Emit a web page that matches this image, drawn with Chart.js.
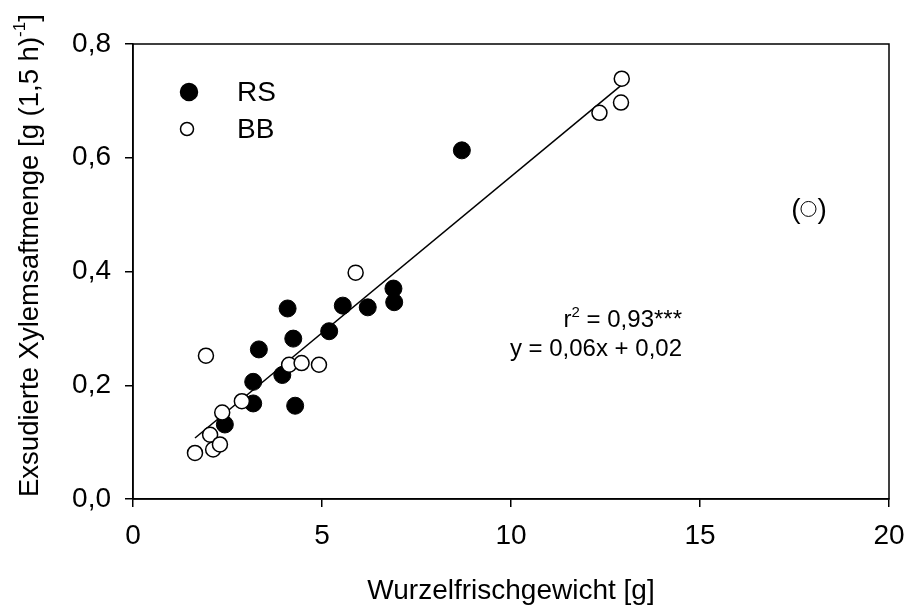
<!DOCTYPE html>
<html>
<head>
<meta charset="utf-8">
<script src="https://cdn.jsdelivr.net/npm/chart.js@4"></script>
<style>
  body { margin: 0; background: #fff; }
</style>
</head>
<body>
<canvas id="chart" width="908" height="611"></canvas>
<script>
// Wurzelfrischgewicht [g] vs. exsudierte Xylemsaftmenge
const rsX = [2.43, 3.18, 3.18, 3.33, 3.95, 4.09, 4.24, 4.29, 5.19, 5.55, 6.21, 6.89, 6.91, 8.70];
const rsY = [0.131, 0.206, 0.168, 0.263, 0.218, 0.335, 0.282, 0.164, 0.295, 0.340, 0.337, 0.370, 0.346, 0.613];

const bbX = [1.64, 1.93, 2.04, 2.12, 2.30, 2.36, 2.88, 4.13, 4.46, 4.92, 5.89, 12.34, 12.91, 12.93];
const bbY = [0.081, 0.252, 0.113, 0.087, 0.096, 0.152, 0.172, 0.236, 0.239, 0.236, 0.398, 0.679, 0.697, 0.739];

// excluded point, shown in brackets
const outlierX = [17.87];
const outlierY = [0.51];

// regression over RS + BB
const fitSlope = 0.055;
const fitIntercept = 0.017;
const fitLabel = ["0,93", "y = 0,06x + 0,02"];

const xTicks = [0, 5, 10, 15, 20];
const yTicks = [0, 0.2, 0.4, 0.6, 0.8];

const FONT = "'Liberation Sans', Arial, sans-serif";

function points(xs, ys) {
  return xs.map((x, i) => ({ x: x, y: ys[i] }));
}

const allX = rsX.concat(bbX);
const fitRange = [Math.min(...allX), Math.max(...allX)];
const fitPoints = fitRange.map(x => ({ x: x, y: fitSlope * x + fitIntercept }));

// box around the plot area
const frame = {
  id: "frame",
  afterDraw(chart) {
    const { ctx, chartArea: a } = chart;
    ctx.save();
    ctx.strokeStyle = "#000";
    ctx.lineWidth = 1.5;
    ctx.strokeRect(a.left, a.top, a.right - a.left, a.bottom - a.top);
    ctx.restore();
  }
};

// legend inside the plot, top left
const innerLegend = {
  id: "innerLegend",
  afterDraw(chart) {
    const ctx = chart.ctx;
    const rows = [
      { ds: chart.data.datasets[1], cx: 189, cy: 92, r: 8.5 },
      { ds: chart.data.datasets[2], cx: 187, cy: 129, r: 6.5 }
    ];
    ctx.save();
    ctx.font = "28px " + FONT;
    ctx.textBaseline = "middle";
    ctx.fillStyle = "#000";
    rows.forEach(row => {
      ctx.beginPath();
      ctx.arc(row.cx, row.cy, row.r, 0, Math.PI * 2);
      ctx.fillStyle = row.ds.backgroundColor;
      ctx.fill();
      ctx.lineWidth = 1.5;
      ctx.strokeStyle = "#000";
      ctx.stroke();
      ctx.fillStyle = "#000";
      ctx.fillText(row.ds.label, 237, row.cy + 1);
    });
    ctx.restore();
  }
};

// brackets around the excluded point, r² and equation
const notes = {
  id: "notes",
  afterDraw(chart) {
    const { ctx, scales: { x, y } } = chart;
    ctx.save();
    ctx.fillStyle = "#000";
    ctx.textBaseline = "middle";

    const px = x.getPixelForValue(outlierX[0]);
    const py = y.getPixelForValue(outlierY[0]);
    ctx.font = "28px " + FONT;
    ctx.textAlign = "right";
    ctx.fillText("(", px - 8, py + 1);
    ctx.textAlign = "left";
    ctx.fillText(")", px + 9, py + 1);

    // two lines, right aligned
    const right = 682;
    const big = "24px " + FONT;
    const small = "15px " + FONT;
    ctx.textBaseline = "alphabetic";
    ctx.textAlign = "left";
    const parts = [
      { t: "r", f: big, dy: 0 },
      { t: "2", f: small, dy: -10 },
      { t: " = " + fitLabel[0] + "***", f: big, dy: 0 }
    ];
    let w = 0;
    parts.forEach(p => { ctx.font = p.f; w += ctx.measureText(p.t).width; });
    let cx = right - w;
    parts.forEach(p => {
      ctx.font = p.f;
      ctx.fillText(p.t, cx, 327 + p.dy);
      cx += ctx.measureText(p.t).width;
    });
    ctx.font = big;
    ctx.textAlign = "right";
    ctx.fillText(fitLabel[1], right, 356);
    ctx.restore();
  }
};

// rotated y title with superscript exponent
const yTitle = {
  id: "yTitle",
  afterDraw(chart) {
    const ctx = chart.ctx;
    const main = "Exsudierte Xylemsaftmenge [g (1,5 h)";
    ctx.save();
    ctx.translate(30, 497);
    ctx.rotate(-Math.PI / 2);
    ctx.fillStyle = "#000";
    ctx.textBaseline = "middle";
    ctx.textAlign = "left";
    ctx.font = "27.5px " + FONT;
    ctx.fillText(main, 0, 0);
    let u = ctx.measureText(main).width;
    ctx.font = "17px " + FONT;
    ctx.fillText("-1", u, -10);
    u += ctx.measureText("-1").width;
    ctx.font = "27.5px " + FONT;
    ctx.fillText("]", u, 0);
    ctx.restore();
  }
};

new Chart(document.getElementById("chart"), {
  type: "scatter",
  data: {
    datasets: [
      {
        type: "line",
        label: "fit",
        data: fitPoints,
        borderColor: "#000",
        borderWidth: 1.5,
        pointRadius: 0,
        fill: false,
        order: 3
      },
      {
        label: "RS",
        data: points(rsX, rsY),
        backgroundColor: "#000",
        borderColor: "#000",
        borderWidth: 1,
        pointRadius: 8.5,
        order: 2
      },
      {
        label: "BB",
        data: points(bbX, bbY),
        backgroundColor: "#fff",
        borderColor: "#000",
        borderWidth: 1.5,
        pointRadius: 7.5,
        order: 1
      },
      {
        label: "excluded",
        data: points(outlierX, outlierY),
        backgroundColor: "#fff",
        borderColor: "#000",
        borderWidth: 1,
        pointRadius: 7.5,
        order: 1
      }
    ]
  },
  options: {
    responsive: false,
    animation: false,
    events: [],
    layout: { padding: { top: 44, right: 19, left: 0, bottom: 0 } },
    plugins: {
      legend: { display: false },
      tooltip: { enabled: false }
    },
    scales: {
      x: {
        type: "linear",
        min: 0,
        max: 20,
        afterFit: s => {
          s.height = 112;
          s.paddingLeft = 0;
          s.paddingRight = 0;
        },
        afterBuildTicks: s => { s.ticks = xTicks.map(v => ({ value: v })); },
        border: { color: "#000", width: 1.5 },
        grid: { drawOnChartArea: false, drawTicks: true, tickLength: 8, color: "#000", lineWidth: 1.5 },
        ticks: {
          color: "#000",
          font: { family: FONT, size: 28 },
          padding: 12,
          callback: v => String(v)
        },
        title: {
          display: true,
          text: "Wurzelfrischgewicht [g]",
          color: "#000",
          font: { family: FONT, size: 28 },
          padding: { top: 0, bottom: 3 }
        }
      },
      y: {
        type: "linear",
        min: 0,
        max: 0.8,
        afterFit: s => { s.width = 133; },
        afterBuildTicks: s => { s.ticks = yTicks.map(v => ({ value: v })); },
        border: { color: "#000", width: 1.5 },
        grid: { drawOnChartArea: false, drawTicks: true, tickLength: 8, color: "#000", lineWidth: 1.5 },
        ticks: {
          color: "#000",
          font: { family: FONT, size: 28 },
          padding: 14,
          callback: v => v.toFixed(1).replace(".", ",")
        }
      }
    }
  },
  plugins: [frame, innerLegend, notes, yTitle]
});
</script>
</body>
</html>
